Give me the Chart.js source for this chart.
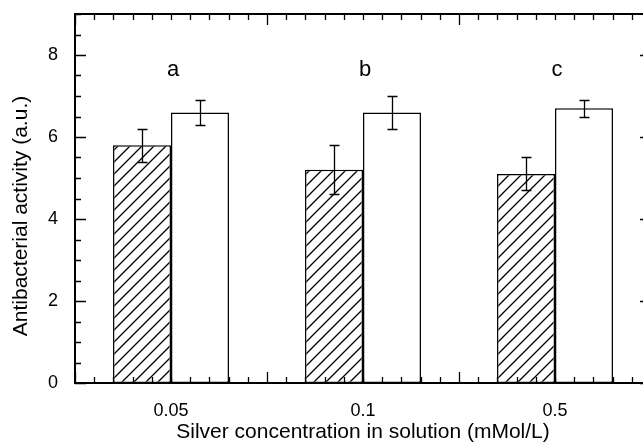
<!DOCTYPE html>
<html>
<head>
<meta charset="utf-8">
<script src="https://cdn.jsdelivr.net/npm/chart.js@4.4.0/dist/chart.umd.min.js"></script>
<style>
  html, body { margin: 0; padding: 0; background: #fff; overflow: hidden; }
  #wrap { width: 660px; height: 443px; }
</style>
</head>
<body>
<div id="wrap"><canvas id="grafico" width="660" height="443"></canvas></div>
<script>
const concentrations = ["0.05", "0.1", "0.5"];
const hatchedValues = [5.8, 5.2, 5.1];
const hatchedErrors = [0.4, 0.6, 0.4];
const openValues = [6.6, 6.6, 6.7];
const openErrors = [0.3, 0.4, 0.2];
const groupLetters = ["a", "b", "c"];
const yTickValues = [0, 2, 4, 6, 8];

const FONT = "'Liberation Sans', Arial, sans-serif";

document.addEventListener("DOMContentLoaded", () => {
  function hatchPattern() {
    const size = 12;
    const tile = document.createElement("canvas");
    tile.width = size;
    tile.height = size;
    const g = tile.getContext("2d");
    g.fillStyle = "#fff";
    g.fillRect(0, 0, size, size);
    g.strokeStyle = "#000";
    g.lineWidth = 1.3;
    g.beginPath();
    g.moveTo(0, size);
    g.lineTo(size, 0);
    g.moveTo(-size / 2, size / 2);
    g.lineTo(size / 2, -size / 2);
    g.moveTo(size / 2, size * 1.5);
    g.lineTo(size * 1.5, size / 2);
    g.stroke();
    return g.createPattern(tile, "repeat");
  }

  // box frame with inward ticks, error bars and the group letters
  const extras = {
    id: "extras",
    afterDatasetsDraw(chart) {
      const { ctx, chartArea: a, scales: { x, y } } = chart;
      ctx.save();
      ctx.strokeStyle = "#000";

      ctx.lineWidth = 1.3;
      ctx.beginPath();
      for (let i = 0; i <= 30; i++) {
        const px = Math.round(x.getPixelForValue(-0.5 + i * 0.1)) + 0.5;
        const len = i % 10 === 0 ? 11 : 6;
        ctx.moveTo(px, a.bottom);
        ctx.lineTo(px, a.bottom - len);
        ctx.moveTo(px, a.top);
        ctx.lineTo(px, a.top + len);
      }
      for (let i = 0; i <= 18; i++) {
        const py = Math.round(y.getPixelForValue(i * 0.5)) + 0.5;
        const len = i % 4 === 0 ? 11 : 6;
        ctx.moveTo(a.left, py);
        ctx.lineTo(a.left + len, py);
        ctx.moveTo(a.right, py);
        ctx.lineTo(a.right - len, py);
      }
      ctx.stroke();

      ctx.lineWidth = 2;
      ctx.strokeRect(a.left, a.top, a.right - a.left, a.bottom - a.top);

      ctx.lineWidth = 1.3;
      chart.data.datasets.forEach((ds, d) => {
        const meta = chart.getDatasetMeta(d);
        meta.data.forEach((bar, i) => {
          const cx = Math.round(bar.x) + 0.5;
          const hi = Math.round(y.getPixelForValue(ds.data[i] + ds.errors[i])) + 0.5;
          const lo = Math.round(y.getPixelForValue(ds.data[i] - ds.errors[i])) + 0.5;
          ctx.beginPath();
          ctx.moveTo(cx, hi);
          ctx.lineTo(cx, lo);
          ctx.moveTo(cx - 5, hi);
          ctx.lineTo(cx + 5, hi);
          ctx.moveTo(cx - 5, lo);
          ctx.lineTo(cx + 5, lo);
          ctx.stroke();
        });
      });

      ctx.fillStyle = "#000";
      ctx.font = `22px ${FONT}`;
      ctx.textAlign = "center";
      ctx.textBaseline = "alphabetic";
      groupLetters.forEach((t, i) => {
        ctx.fillText(t, x.getPixelForValue(i) + 2, y.getPixelForValue(7.5));
      });

      ctx.font = `21px ${FONT}`;
      ctx.textBaseline = "middle";
      ctx.translate(21, 216);
      ctx.rotate(-Math.PI / 2);
      ctx.fillText("Antibacterial activity (a.u.)", 0, 0);
      ctx.restore();
    },
  };

  const ctx = document.getElementById("grafico").getContext("2d");
  new Chart(ctx, {
    type: "bar",
    data: {
      labels: concentrations,
      datasets: [
        {
          data: hatchedValues,
          errors: hatchedErrors,
          backgroundColor: hatchPattern(),
          borderColor: "#000",
          borderWidth: 1.5,
          borderSkipped: false,
        },
        {
          data: openValues,
          errors: openErrors,
          backgroundColor: "#fff",
          borderColor: "#000",
          borderWidth: 1.5,
          borderSkipped: false,
        },
      ],
    },
    options: {
      responsive: false,
      animation: false,
      layout: { padding: { top: 14, right: 9, left: 0, bottom: 0 } },
      datasets: { bar: { categoryPercentage: 0.604, barPercentage: 1 } },
      plugins: {
        legend: { display: false },
        tooltip: { enabled: false },
      },
      scales: {
        x: {
          grid: { display: false, drawTicks: false },
          border: { display: false },
          ticks: { color: "#000", font: { family: FONT, size: 18 }, padding: 17 },
          title: {
            display: true,
            text: "Silver concentration in solution (mMol/L)",
            color: "#000",
            font: { family: FONT, size: 21, lineHeight: 1 },
            padding: 0,
          },
          afterFit(s) {
            s.height = 60;
            s.paddingLeft = 0;
            s.paddingRight = 0;
          },
        },
        y: {
          min: 0,
          max: 9,
          grid: { display: false, drawTicks: false },
          border: { display: false },
          ticks: { color: "#000", font: { family: FONT, size: 18 }, padding: 17 },
          afterBuildTicks(s) {
            s.ticks = yTickValues.map((v) => ({ value: v }));
          },
          afterFit(s) {
            s.width = 75;
            s.paddingTop = 0;
            s.paddingBottom = 0;
          },
        },
      },
    },
    plugins: [extras],
  });
});
</script>
</body>
</html>
